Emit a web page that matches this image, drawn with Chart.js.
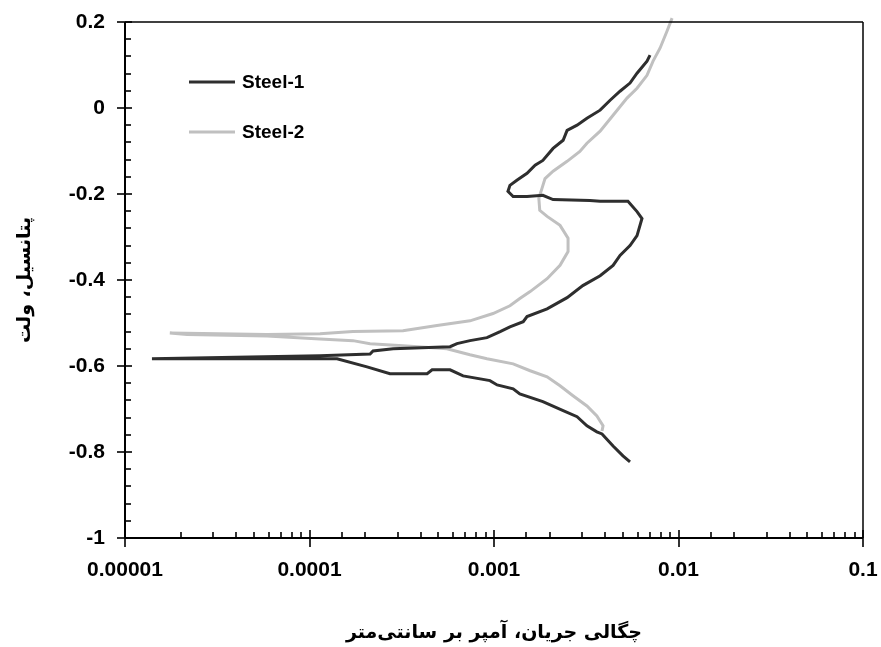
<!DOCTYPE html>
<html>
<head>
<meta charset="utf-8">
<script src="https://cdn.jsdelivr.net/npm/chart.js@4.4.1/dist/chart.umd.min.js"></script>
<style>
  html, body { margin: 0; padding: 0; background: #ffffff; }
  canvas { display: block; }
</style>
</head>
<body>
<canvas id="c" width="881" height="647"></canvas>
<script>
// ---- data (current density A/cm², potential V) ----
const seriesNames = ['Steel-1', 'Steel-2'];
const seriesColors = ['#2e2e2e', '#c0c0c0'];

const steel1Current = [5.46e-3, 5.00e-3, 4.42e-3, 3.85e-3, 3.61e-3, 3.19e-3, 2.82e-3, 2.37e-3, 1.84e-3, 1.38e-3,
  1.27e-3, 1.04e-3, 9.51e-4, 6.80e-4, 5.78e-4, 4.62e-4, 4.34e-4, 2.73e-4, 2.05e-4, 1.41e-4,
  1.40e-5, 1.14e-4, 2.13e-4, 2.21e-4, 2.84e-4, 5.78e-4, 6.30e-4, 7.41e-4, 9.16e-4, 1.08e-3,
  1.22e-3, 1.44e-3, 1.51e-3, 1.94e-3, 2.49e-3, 3.03e-3, 3.76e-3, 4.42e-3, 4.82e-3, 5.46e-3,
  5.96e-3, 6.34e-3, 5.96e-3, 5.32e-3, 3.76e-3, 3.31e-3, 2.09e-3, 1.84e-3, 1.51e-3, 1.27e-3,
  1.19e-3, 1.22e-3, 1.33e-3, 1.51e-3, 1.67e-3, 1.84e-3, 2.09e-3, 2.37e-3, 2.49e-3, 2.82e-3,
  3.19e-3, 3.76e-3, 4.26e-3, 4.82e-3, 5.46e-3, 5.96e-3, 6.75e-3, 7.01e-3];
const steel1Potential = [-0.823, -0.809, -0.786, -0.758, -0.753, -0.739, -0.718, -0.704, -0.683, -0.665,
  -0.653, -0.644, -0.634, -0.623, -0.609, -0.609, -0.618, -0.618, -0.602, -0.583,
  -0.583, -0.576, -0.572, -0.565, -0.560, -0.555, -0.548, -0.541, -0.534, -0.520,
  -0.509, -0.497, -0.485, -0.467, -0.441, -0.413, -0.390, -0.366, -0.343, -0.320,
  -0.297, -0.257, -0.241, -0.217, -0.217, -0.215, -0.213, -0.203, -0.206, -0.206,
  -0.194, -0.180, -0.168, -0.152, -0.133, -0.122, -0.094, -0.075, -0.052, -0.040,
  -0.024, -0.005, 0.018, 0.039, 0.058, 0.081, 0.109, 0.123];

const steel2Current = [3.85e-3, 3.90e-3, 3.61e-3, 3.19e-3, 2.68e-3, 2.28e-3, 1.94e-3, 1.57e-3, 1.27e-3, 9.16e-4,
  7.41e-4, 5.56e-4, 3.21e-4, 2.13e-4, 1.72e-4, 1.14e-4, 5.89e-5, 2.17e-5, 1.75e-5, 5.89e-5,
  1.14e-4, 1.72e-4, 3.21e-4, 4.91e-4, 7.41e-4, 9.88e-4, 1.22e-3, 1.38e-3, 1.57e-3, 1.94e-3,
  2.28e-3, 2.52e-3, 2.52e-3, 2.28e-3, 1.94e-3, 1.77e-3, 1.75e-3, 1.82e-3, 1.89e-3, 2.09e-3,
  2.49e-3, 2.92e-3, 3.19e-3, 3.76e-3, 4.42e-3, 5.26e-3, 5.96e-3, 6.75e-3, 7.28e-3, 7.94e-3,
  8.67e-3, 9.23e-3];
const steel2Potential = [-0.751, -0.739, -0.716, -0.693, -0.669, -0.646, -0.625, -0.611, -0.595, -0.583,
  -0.574, -0.560, -0.553, -0.548, -0.541, -0.537, -0.530, -0.527, -0.523, -0.527,
  -0.525, -0.520, -0.518, -0.506, -0.495, -0.478, -0.460, -0.443, -0.427, -0.397,
  -0.366, -0.334, -0.303, -0.273, -0.252, -0.238, -0.210, -0.187, -0.164, -0.147,
  -0.124, -0.101, -0.082, -0.054, -0.017, 0.023, 0.046, 0.076, 0.109, 0.139,
  0.179, 0.209];

const xTickValues = [1e-5, 1e-4, 1e-3, 1e-2, 1e-1];
const xTickLabels = ['0.00001', '0.0001', '0.001', '0.01', '0.1'];
const yTickValues = [0.2, 0, -0.2, -0.4, -0.6, -0.8, -1];
const yTickLabels = ['0.2', '0', '-0.2', '-0.4', '-0.6', '-0.8', '-1'];

const xTitle = 'چگالی جریان، آمپر بر سانتی‌متر';
const yTitle = 'پتانسیل، ولت';

// ---- build datasets ----
function zip(xs, ys) { return xs.map((v, i) => ({ x: v, y: ys[i] })); }
const seriesData = [zip(steel1Current, steel1Potential), zip(steel2Current, steel2Potential)];

const tickFont = { family: '"Liberation Sans", Arial, sans-serif', size: 21, weight: 'bold' };
const titleFont = { family: '"DejaVu Sans", sans-serif', size: 19, weight: 'bold' };

function labelFor(values, labels, v) {
  for (let i = 0; i < values.length; i++) {
    if (Math.abs(values[i] - v) <= Math.abs(values[i]) * 1e-6 + 1e-9) return labels[i];
  }
  return '';
}
function isMajorX(v) { return labelFor(xTickValues, xTickLabels, v) !== ''; }

// ---- plugin: frame, inward minor ticks, crossing major ticks, legend ----
const framePlugin = {
  id: 'framePlugin',
  afterDatasetsDraw(chart) {
    const { ctx, chartArea: a, scales: { x, y } } = chart;
    ctx.save();
    ctx.strokeStyle = '#000';
    const seg = (x1, y1, x2, y2, w) => { ctx.lineWidth = w; ctx.beginPath(); ctx.moveTo(x1, y1); ctx.lineTo(x2, y2); ctx.stroke(); };
    // frame
    seg(a.left, a.top, a.right, a.top, 1.3);
    seg(a.right, a.top, a.right, a.bottom, 1.5);
    seg(a.left, a.top, a.left, a.bottom, 2);
    seg(a.left, a.bottom, a.right, a.bottom, 2);
    // y ticks
    const yt = y.ticks.map(t => t.value).sort((p, q) => p - q);
    for (let i = 0; i < yt.length; i++) {
      const py = Math.round(y.getPixelForValue(yt[i]));
      seg(a.left - 8, py, a.left + 7, py, 1.6);
      if (i < yt.length - 1) {
        for (let k = 1; k < 5; k++) {
          const p = Math.round(y.getPixelForValue(yt[i] + (yt[i + 1] - yt[i]) * k / 5));
          seg(a.left, p, a.left + 6, p, 1.6);
        }
      }
    }
    // x ticks
    x.ticks.forEach(t => {
      const px = Math.round(x.getPixelForValue(t.value));
      if (isMajorX(t.value)) seg(px, a.bottom - 8, px, a.bottom + 9, 1.6);
      else seg(px, a.bottom, px, a.bottom - 6, 1.6);
    });
    // legend
    chart.data.datasets.forEach((ds, i) => {
      const ly = 82 + i * 50;
      ctx.strokeStyle = ds.borderColor;
      seg(189, ly, 235, ly, 3);
      ctx.fillStyle = '#000';
      ctx.font = 'bold 19px "Liberation Sans", Arial, sans-serif';
      ctx.textAlign = 'left';
      ctx.textBaseline = 'middle';
      ctx.fillText(ds.label, 242, ly + 1);
    });
    ctx.restore();
  }
};

new Chart(document.getElementById('c'), {
  type: 'scatter',
  data: {
    datasets: seriesData.map((d, i) => ({
      label: seriesNames[i],
      data: d,
      showLine: true,
      borderColor: seriesColors[i],
      backgroundColor: seriesColors[i],
      borderWidth: 3,
      pointRadius: 0,
      pointHoverRadius: 0,
      tension: 0,
      clip: 8
    }))
  },
  options: {
    responsive: false,
    animation: false,
    events: [],
    layout: { padding: { left: 14, right: 18, top: 22, bottom: 0 } },
    plugins: { legend: { display: false }, tooltip: { enabled: false } },
    scales: {
      x: {
        type: 'logarithmic',
        min: 1e-5,
        max: 0.1,
        border: { display: false },
        grid: { display: false, drawTicks: false, tickLength: 0 },
        ticks: {
          autoSkip: false,
          maxRotation: 0,
          padding: 20,
          color: '#000',
          font: tickFont,
          callback: (v) => labelFor(xTickValues, xTickLabels, v)
        },
        title: { display: true, text: xTitle, color: '#000', font: titleFont, padding: { top: 0, bottom: 3 } },
        afterFit: (s) => { s.height = 109; s.paddingLeft = 0; s.paddingRight = 0; }
      },
      y: {
        type: 'linear',
        min: -1,
        max: 0.2,
        border: { display: false },
        grid: { display: false, drawTicks: false, tickLength: 0 },
        afterBuildTicks: (s) => { s.ticks = yTickValues.map(v => ({ value: v })); },
        ticks: {
          padding: 20,
          color: '#000',
          font: tickFont,
          callback: (v) => labelFor(yTickValues, yTickLabels, v)
        },
        title: { display: true, text: yTitle, color: '#000', font: titleFont, padding: { top: 0, bottom: 0 } },
        afterFit: (s) => { s.width = 111; s.paddingTop = 0; s.paddingBottom = 0; }
      }
    }
  },
  plugins: [framePlugin]
});
</script>
</body>
</html>
